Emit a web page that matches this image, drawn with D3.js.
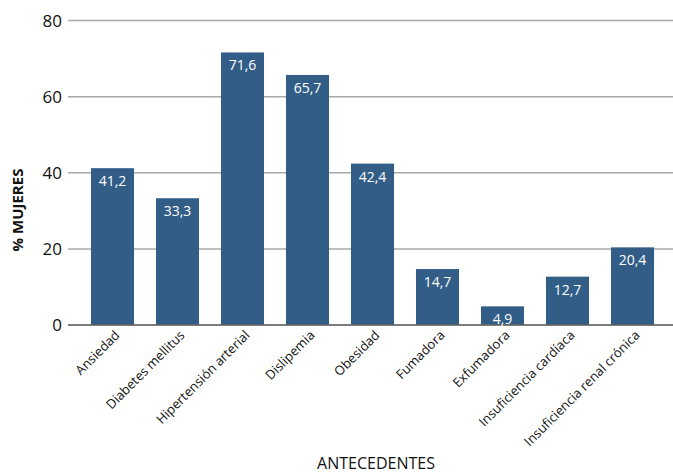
<!DOCTYPE html>
<html lang="es">
<head>
    <meta charset="UTF-8">
    <title>Antecedentes - % mujeres</title>
    <script src="https://cdnjs.cloudflare.com/ajax/libs/d3/7.8.5/d3.min.js"></script>
    <style>
        body {
            margin: 0;
            background: #fff;
            font-family: "Open Sans", "Noto Sans", sans-serif;
        }
        .grid line { stroke: #a8a8a8; stroke-width: 1.5; }
        .bar { fill: #325d87; }
        .value { fill: #fff; font-size: 14px; text-anchor: middle; }
        .ytick { font-size: 17px; fill: #111; text-anchor: end; }
        .xtick { font-size: 13px; fill: #111; text-anchor: end; }
    </style>
</head>
<body>
    <svg id="chart" width="673" height="475"></svg>
    <script>
        const categories = ["Ansiedad", "Diabetes mellitus", "Hipertensión arterial", "Dislipemia",
            "Obesidad", "Fumadora", "Exfumadora", "Insuficiencia cardíaca", "Insuficiencia renal crónica"];
        const values = [41.2, 33.3, 71.6, 65.7, 42.4, 14.7, 4.9, 12.7, 20.4];
        const yTicks = [0, 20, 40, 60, 80];

        const svg = d3.select("#chart");

        const x = d3.scaleBand()
            .domain(categories)
            .range([80, 665])
            .paddingInner(0.338)
            .paddingOuter(0.169);

        const y = d3.scaleLinear()
            .domain([0, 80])
            .range([325, 20.5]);

        // gridlines
        const grid = svg.append("g").attr("class", "grid");
        grid.selectAll("line")
            .data(yTicks)
            .enter().append("line")
            .attr("x1", 68)
            .attr("x2", 673)
            .attr("y1", d => y(d))
            .attr("y2", d => y(d));

        // y tick labels
        svg.selectAll(".ytick")
            .data(yTicks)
            .enter().append("text")
            .attr("class", "ytick")
            .attr("x", 62)
            .attr("y", d => y(d) + 6)
            .text(d => d);

        // bars
        svg.selectAll(".bar")
            .data(values)
            .enter().append("rect")
            .attr("class", "bar")
            .attr("x", (d, i) => x(categories[i]))
            .attr("width", x.bandwidth())
            .attr("y", d => y(d))
            .attr("height", d => y(0) - y(d));

        // baseline on top of the bars
        svg.append("line")
            .attr("x1", 68).attr("x2", 673)
            .attr("y1", y(0)).attr("y2", y(0))
            .attr("stroke", "#666").attr("stroke-width", 1.5);

        // value labels
        svg.selectAll(".value")
            .data(values)
            .enter().append("text")
            .attr("class", "value")
            .attr("x", (d, i) => x(categories[i]) + x.bandwidth() / 2)
            .attr("y", d => y(d) + 18)
            .text(d => d.toFixed(1).replace(".", ","));

        // category labels
        svg.selectAll(".xtick")
            .data(categories)
            .enter().append("text")
            .attr("class", "xtick")
            .attr("transform", d => `translate(${x(d) + x.bandwidth() / 2 + 8},336) rotate(-45)`)
            .text(d => d);

        // axis titles
        svg.append("text")
            .attr("x", 376)
            .attr("y", 469)
            .attr("text-anchor", "middle")
            .style("font-size", "16px")
            .style("fill", "#111")
            .text("ANTECEDENTES");

        svg.append("text")
            .attr("transform", "translate(23,210) rotate(-90)")
            .attr("text-anchor", "middle")
            .style("font-size", "15px")
            .style("font-weight", "bold")
            .style("fill", "#111")
            .text("% MUJERES");
    </script>
</body>
</html>
